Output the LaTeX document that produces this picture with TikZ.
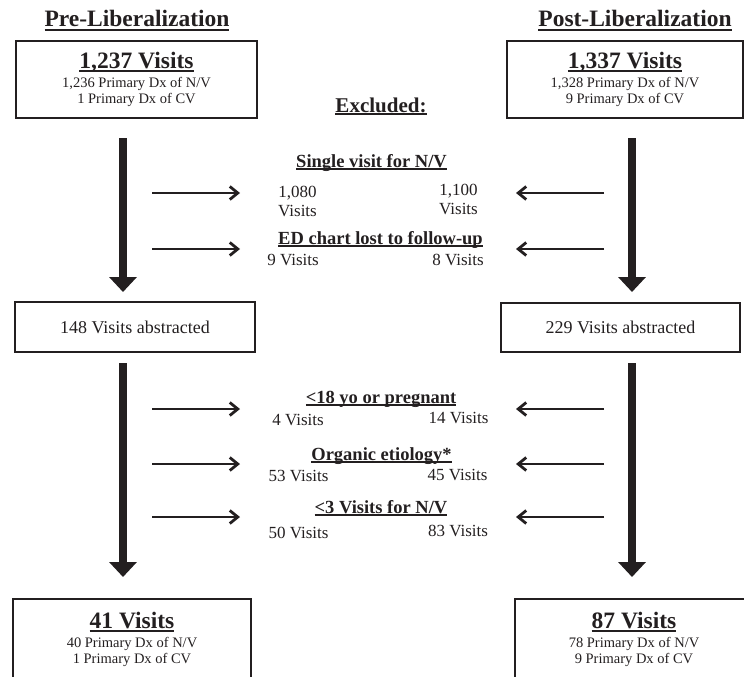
\documentclass[tikz,border=0pt]{standalone}
\usepackage{fontspec}
\setmainfont{Liberation Serif}
\usepackage{tikz}
\usetikzlibrary{arrows.meta, positioning}
\usepackage{xcolor}
\definecolor{ink}{HTML}{231F20}
\newcommand{\ulbox}[1]{\setbox0=\hbox{#1}\leavevmode\rlap{\rule[-0.15em]{\wd0}{0.085em}}\box0}

\begin{document}
\begin{tikzpicture}[
            x=1pt, y=-1pt,
            every node/.style={text=ink, inner sep=0pt, outer sep=0pt},
            box/.style={draw=ink, line width=2.4pt, align=center, font=\fontsize{14.5}{16.5}\selectfont},
            midbox/.style={draw=ink, line width=1.8pt, font=\fontsize{18}{21}\selectfont},
            heading/.style={anchor=base, font=\fontsize{23.5}{28}\selectfont\bfseries},
            reason/.style={anchor=base, font=\fontsize{18.5}{22}\selectfont\bfseries},
            count/.style={anchor=base, font=\fontsize{17}{20}\selectfont},
            flow/.style={draw=ink, line width=7.7pt, -{Triangle[width=27pt, length=15pt]}},
            drop/.style={draw=ink, line width=2.2pt, -{Straight Barb[length=8pt, width=13pt, line width=2.8pt]}}
        ]
        \useasboundingbox (0,0) rectangle (744,677);
        \newcommand{\total}[1]{{\fontsize{23.5}{28}\selectfont\bfseries\ulbox{#1}}}

        \coordinate (laneL) at (123,0);
        \coordinate (laneR) at (632,0);

        \node[heading] (preHead) at (137,27) {\ulbox{Pre-Liberalization}};
        \node[heading] (postHead) at (635,27) {\ulbox{Post-Liberalization}};

        \node[box, minimum width=241pt, minimum height=77pt] (preTop) at (136.5,79.5)
            {\total{1,237 Visits}\\[2.5pt] 1,236 Primary Dx of N/V\\ 1 Primary Dx of CV};
        \node[box, minimum width=236pt, minimum height=77pt] (postTop) at (625,79.5)
            {\total{1,337 Visits}\\[2.5pt] 1,328 Primary Dx of N/V\\ 9 Primary Dx of CV};

        \node[anchor=base, font=\fontsize{21}{25}\selectfont\bfseries] (excl) at (381,112) {\ulbox{Excluded:}};

        \node[midbox, minimum width=240pt, minimum height=50pt] (preMid) at (135,327) {148 Visits abstracted};
        \node[midbox, minimum width=239pt, minimum height=49pt] (postMid) at (620.5,327.5) {229 Visits abstracted};

        \node[box, minimum width=238pt, minimum height=80.7pt] (preEnd) at (132,639.35)
            {\total{41 Visits}\\[2.5pt] 40 Primary Dx of N/V\\ 1 Primary Dx of CV};
        \node[box, minimum width=238pt, minimum height=80.7pt] (postEnd) at (634,639.35)
            {\total{87 Visits}\\[2.5pt] 78 Primary Dx of N/V\\ 9 Primary Dx of CV};

        \foreach \Name/\X/\Y/\Text in {single/371.5/167/{Single visit for N/V}, lost/380.5/244/{ED chart lost to follow-up},
            minor/381/403/{<18 yo or pregnant}, organic/381.5/460/{Organic etiology*}, few/381/513/{<3 Visits for N/V}}
            \node[reason] (\Name) at (\X,\Y) {\ulbox{\Text}};

        \foreach \Name/\X/\Y/\Text in {singleA/297.5/197/{1,080}, singleAv/297.5/216/Visits,
            singleB/458.5/195/{1,100}, singleBv/458.5/214/Visits,
            lostA/293/265/9 Visits, lostB/458/265/8 Visits,
            minorA/298/425/4 Visits, minorB/458.5/423/14 Visits,
            organicA/298.5/481/53 Visits, organicB/457.5/480/45 Visits,
            fewA/298.5/538/50 Visits, fewB/458/536/83 Visits}
            \node[count] (\Name) at (\X,\Y) {\Text};

        \draw[flow, shorten <=20pt, shorten >=10pt] (preTop.south -| laneL) -- (preMid.north -| laneL);
        \draw[flow, shorten <=20pt, shorten >=11pt] (postTop.south -| laneR) -- (postMid.north -| laneR);
        \draw[flow, shorten <=11pt, shorten >=22pt] (preMid.south -| laneL) -- (preEnd.north -| laneL);
        \draw[flow, shorten <=11pt, shorten >=22pt] (postMid.south -| laneR) -- (postEnd.north -| laneR);

        \foreach \Y [count=\i] in {193, 249, 409, 464, 517} {
            \coordinate (fromL\i) at (152,\Y);
            \coordinate (toL\i) at (240,\Y);
            \coordinate (fromR\i) at (604,\Y);
            \coordinate (toR\i) at (516,\Y);
            \draw[drop] (fromL\i) -- (toL\i);
            \draw[drop] (fromR\i) -- (toR\i);
        }
    \end{tikzpicture}
\end{document}
